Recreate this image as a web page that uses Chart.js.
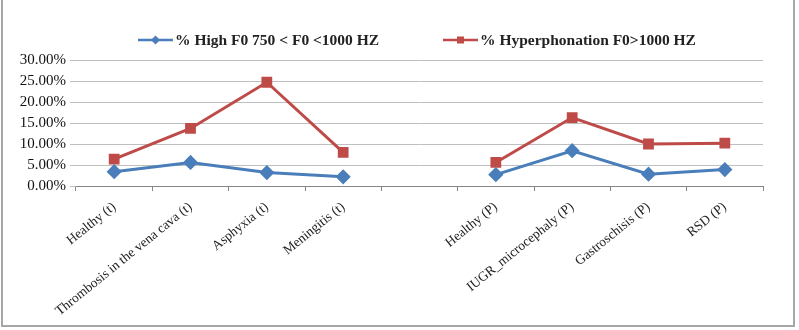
<!DOCTYPE html>
<html>
<head>
<meta charset="utf-8">
<script src="https://cdn.jsdelivr.net/npm/chart.js@4"></script>
<style>
  html, body { margin: 0; padding: 0; background: #fff; }
  #wrap { position: relative; width: 799px; height: 330px; }
  #frame {
    position: absolute; left: 1px; top: -2px; width: 790px; height: 327px;
    border: 2px solid #a6a6a6; border-top: none; pointer-events: none;
  }
</style>
</head>
<body>
<div id="wrap">
  <canvas id="chart" width="799" height="330"></canvas>
  <div id="frame"></div>
</div>
<script>
/* DATA */
const categories = [
    "Healthy (t)", "Thrombosis in the vena cava (t)", "Asphyxia (t)", "Meningitis (t)", "",
    "Healthy (P)", "IUGR_microcephaly (P)", "Gastroschisis (P)", "RSD (P)"
];
const highF0 = [3.4, 5.6, 3.2, 2.2, null, 2.7, 8.4, 2.8, 3.9];
const hyperphonation = [6.4, 13.7, 24.7, 8.0, null, 5.6, 16.3, 10.0, 10.2];
const seriesNames = ["% High F0 750 < F0 <1000 HZ", "% Hyperphonation F0>1000 HZ"];
const yTicks = { min: 0, max: 30, step: 5 };

const FONT = "'Liberation Serif', 'Times New Roman', serif";
const BLUE = "#4a7ebb";
const RED = "#be4b48";

/* LEGEND: line + marker + text, drawn like the office-style legend */
const lineLegend = {
    id: "lineLegend",
    afterDraw(c, args, opts) {
        const ctx = c.ctx;
        ctx.save();
        ctx.font = "bold 15.5px " + FONT;
        ctx.textBaseline = "middle";
        c.data.datasets.forEach((ds, i) => {
            const x = opts.xs[i], y = opts.y;
            ctx.strokeStyle = ds.borderColor;
            ctx.lineWidth = 2.5;
            ctx.beginPath();
            ctx.moveTo(x, y);
            ctx.lineTo(x + 35, y);
            ctx.stroke();
            ctx.fillStyle = ds.pointBackgroundColor;
            ctx.beginPath();
            if (ds.pointStyle === "rect") ctx.rect(x + 14, y - 3.5, 7, 7);
            else { ctx.moveTo(x + 17.5, y - 4.5); ctx.lineTo(x + 22, y); ctx.lineTo(x + 17.5, y + 4.5); ctx.lineTo(x + 13, y); ctx.closePath(); }
            ctx.fill();
            ctx.fillStyle = "#222";
            ctx.fillText(ds.label, x + 37, y + 1);
        });
        ctx.restore();
    }
};

new Chart(document.getElementById("chart"), {
    type: "line",
    data: {
        labels: categories,
        datasets: [{
            label: seriesNames[0],
            data: highF0,
            borderColor: BLUE,
            backgroundColor: BLUE,
            pointBackgroundColor: BLUE,
            pointBorderColor: BLUE,
            pointStyle: "rectRot",
            pointRadius: 5.5,
            borderWidth: 3,
            tension: 0
        }, {
            label: seriesNames[1],
            data: hyperphonation,
            borderColor: RED,
            backgroundColor: RED,
            pointBackgroundColor: RED,
            pointBorderColor: RED,
            pointStyle: "rect",
            pointRadius: 5.5,
            borderWidth: 3,
            tension: 0
        }]
    },
    options: {
        responsive: false,
        animation: false,
        layout: { padding: { top: 60, right: 36, bottom: 0, left: 0 } },
        plugins: {
            legend: { display: false },
            tooltip: { enabled: false },
            lineLegend: { xs: [138, 443], y: 40 }
        },
        scales: {
            x: {
                offset: true,
                grid: { offset: true, drawOnChartArea: false, color: "#868686", tickLength: 5 },
                border: { color: "#868686", width: 1 },
                ticks: {
                    autoSkip: false, minRotation: 39, maxRotation: 39, padding: 8,
                    color: "#222", font: { family: FONT, size: 13.5 }
                },
                afterFit(scale) { scale.height = 144; }
            },
            y: {
                min: yTicks.min, max: yTicks.max,
                grid: { color: "#bfbfbf", tickLength: 6 },
                border: { display: false },
                ticks: {
                    stepSize: yTicks.step, padding: 4,
                    color: "#111", font: { family: FONT, size: 15 },
                    callback: v => v.toFixed(2) + "%"
                },
                afterFit(scale) { scale.width = 76; }
            }
        }
    },
    plugins: [lineLegend]
});
</script>
</body>
</html>
